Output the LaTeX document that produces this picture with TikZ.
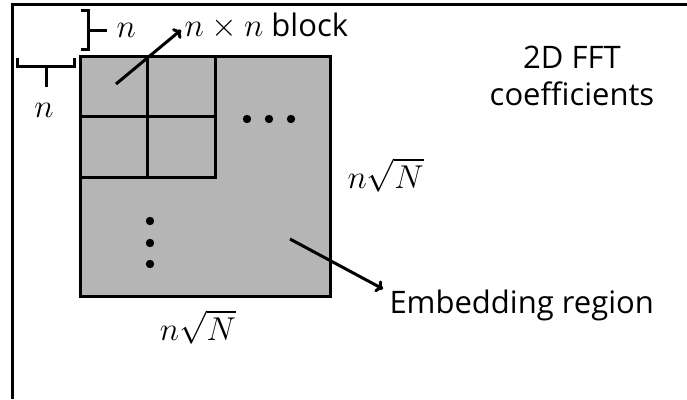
\documentclass[tikz,border=0pt]{standalone}
\usepackage{fix-cm}
\usepackage[no-math]{fontspec}
\setmainfont{Open Sans}
\usetikzlibrary{arrows.meta}
\definecolor{regiongray}{RGB}{181,181,181}

\begin{document}
\begin{tikzpicture}[x=1pt,y=-1pt,line width=3pt,
  cell/.style={draw,minimum width=67.5pt,minimum height=60.5pt,anchor=north west,inner sep=0pt,outer sep=0pt},
  lbl/.style={inner sep=0pt,font=\fontsize{31}{37}\selectfont},
  mathlbl/.style={inner sep=0pt,font=\fontsize{33}{40}\selectfont},
  arr/.style={-{To[length=7pt,width=13pt]}}]
  \useasboundingbox (0,0) rectangle (687,399);
  \draw (12.5,399) -- (12.5,4.5) -- (687,4.5);
  % coefficient region and the n x n blocks
  \node[draw,fill=regiongray,minimum width=250pt,minimum height=240pt,inner sep=0pt,outer sep=0pt] (region) at (205,176) {};
  \foreach \i in {0,1}
    \foreach \j in {0,1}
      \node[cell] (b\i\j) at (80+67.5*\i,56+60.5*\j) {};
  \foreach \x in {247,269,291} \fill (\x,119) circle[radius=4.2pt];
  \foreach \y in {221,243,264} \fill (150,\y) circle[radius=4.2pt];
  % braces
  \draw (81,10) -- (88,10) -- (88,49) -- (81,49) (88,30) -- (107,30);
  \draw (17,58) -- (17,66) -- (74,66) -- (74,58) (46,66) -- (46,87);
  % labels
  \node[mathlbl,anchor=base west] (ntop) at (115,37) {$n$};
  \node[mathlbl,anchor=base] (nleft) at (44,117) {$n$};
  \node[lbl,anchor=base west] (blocklbl) at (183,36) {\fontsize{33}{40}\selectfont$n\times n$\fontsize{31}{37}\selectfont{} block};
  \node[lbl,anchor=north,align=center] (fftlbl) at (572,45) {2D FFT\\coefficients};
  \node[mathlbl,anchor=base west] (sideright) at (346,188) {$n\sqrt{N}$};
  \node[mathlbl,anchor=base] (sidebottom) at (198,340) {$n\sqrt{N}$};
  \node[lbl,anchor=base west] (embedlbl) at (388,313) {Embedding region};
  % arrows
  \coordinate (a1) at (116,84);
  \coordinate (a2) at (290,239);
  \draw[arr] (a1) -- ([xshift=-2pt,yshift=6pt]blocklbl.base west);
  \draw[arr] (a2) -- ([xshift=-5pt,yshift=-1pt]embedlbl.north west);
\end{tikzpicture}
\end{document}
